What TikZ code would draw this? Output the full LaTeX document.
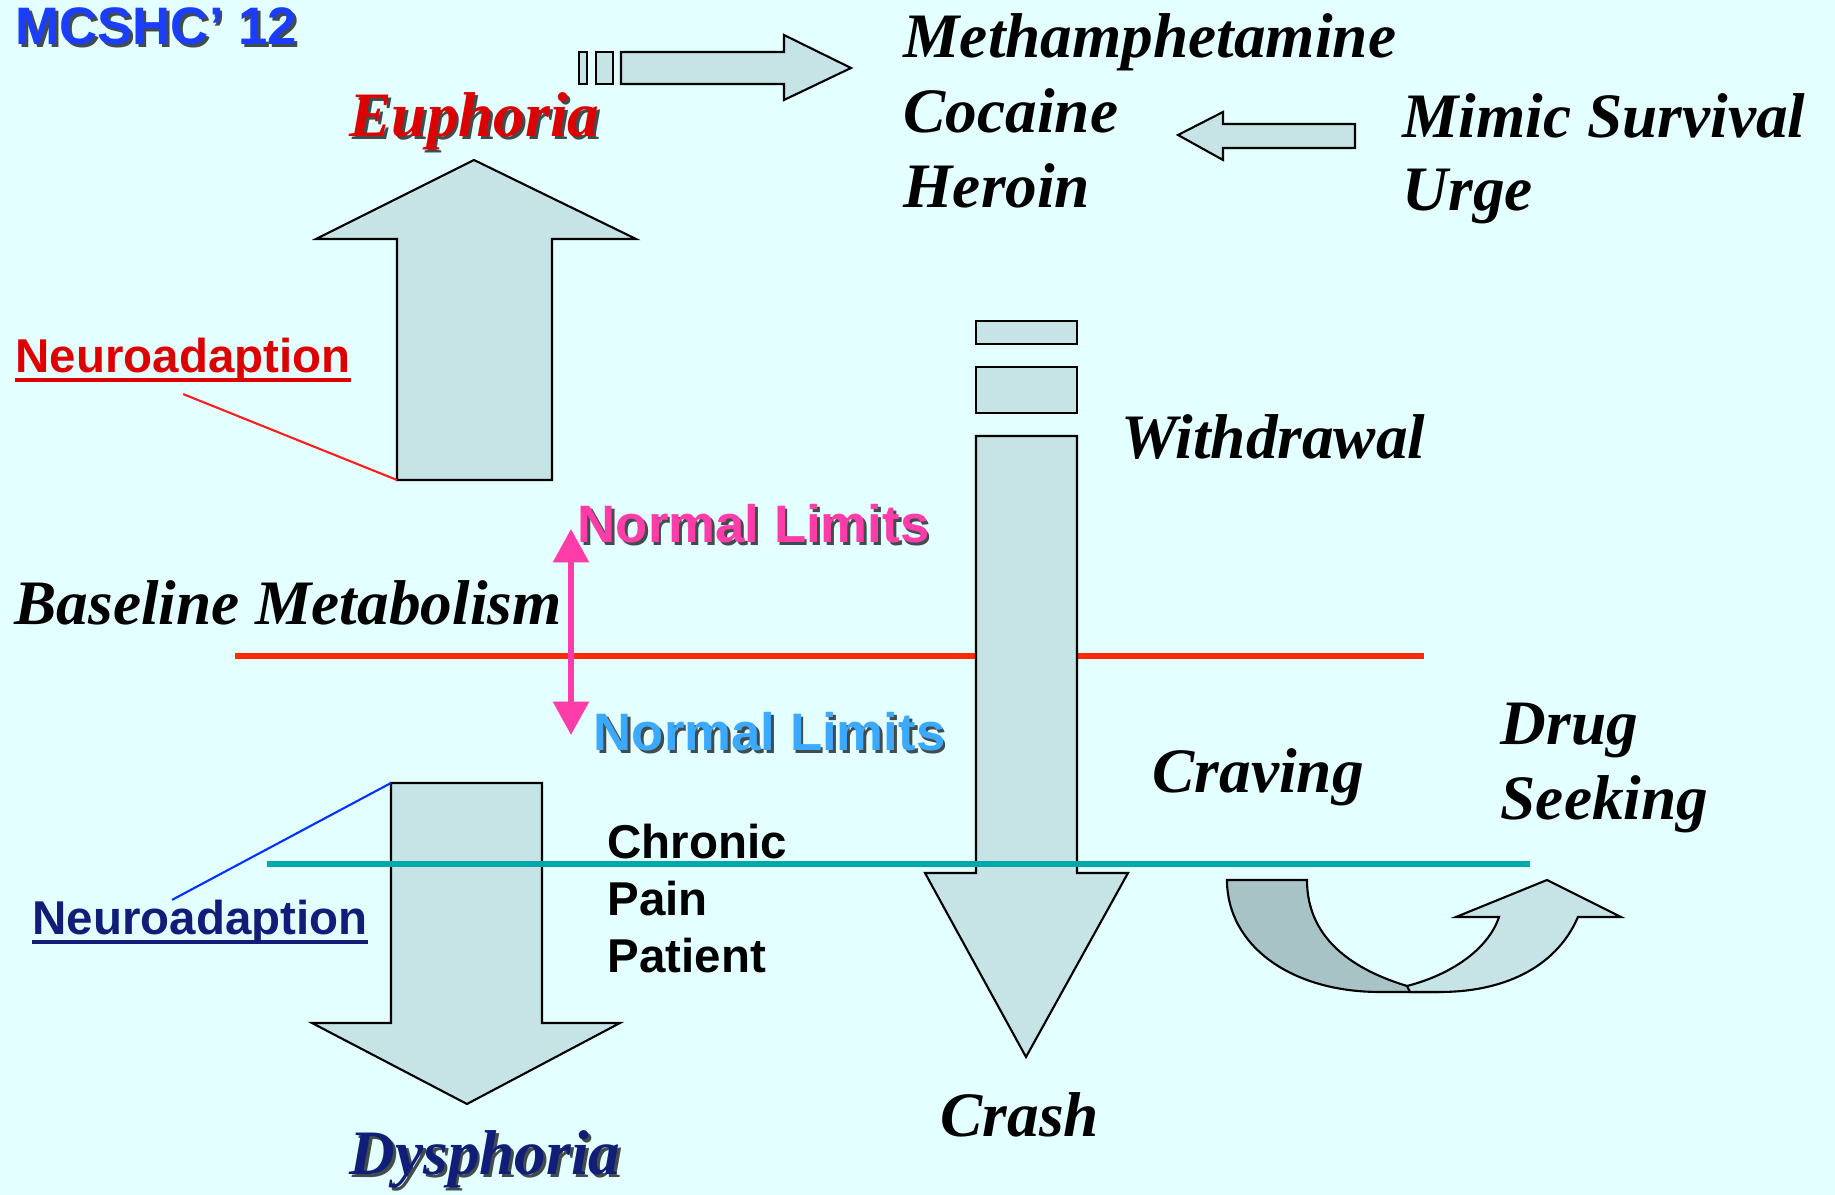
\documentclass[tikz,border=0pt]{standalone}
\usepackage{fontspec}
\setmainfont{Liberation Serif}
\setsansfont{Liberation Sans}
\usetikzlibrary{arrows.meta}
\definecolor{bg}{HTML}{E3FFFF}
\definecolor{arrfill}{HTML}{C6E4E6}
\definecolor{arrdark}{HTML}{A7C3C5}
\definecolor{basered}{HTML}{FF2A00}
\definecolor{teal}{HTML}{00A8A8}
\definecolor{hotpink}{HTML}{FF3DAA}
\definecolor{skyblue}{HTML}{3BA9FF}
\definecolor{mcblue}{HTML}{1A3DFF}
\definecolor{eured}{HTML}{DD0000}
\definecolor{navy}{HTML}{101E78}
\newcommand{\shtext}[5]{\node[#3, text=black, opacity=0.7, xshift=0.8pt, yshift=-0.8pt] (#1s) at (#2) {#5}; \node[#3, text=#4] (#1) at (#2) {#5};}
\newcommand{\uline}[2]{\draw[#2, line width=0.9pt] ([yshift=-2pt]#1.base west) -- ([yshift=-2pt]#1.base east);}
\tikzset{
  blk/.style = {fill=arrfill, draw=black, line width=0.6pt},
  lbl/.style = {anchor=base west, inner sep=0, font=\fontsize{18}{20}\selectfont\bfseries\itshape},
  sfb/.style = {anchor=base west, inner sep=0, font=\fontsize{#1}{#1}\selectfont\sffamily\bfseries}
}

\begin{document}
\begin{tikzpicture}[x = 0.01cm, y = -0.01cm]
\fill[bg] (0,0) rectangle (1835,1195);
\shtext{mcshc}{15,45}{sfb=15}{mcblue}{MCSHC’ 12}
\draw[blk] (579,52) rectangle (587,84);
\draw[blk] (596,52) rectangle (613,84);
\draw[blk] (621,52) -- (784,52) -- (784,35) -- (851,68) -- (784,100) -- (784,84) -- (621,84) -- cycle;
\shtext{euph}{349,137}{lbl}{eured}{Euphoria}
\draw[blk] (397,480) -- (397,239) -- (316,239) -- (474,160) -- (636,239) -- (552,239) -- (552,480) -- cycle;
\coordinate (eucorner) at (397,480);
\node[sfb=13.5, text=eured] (neuror) at (15,373) {Neuroadaption};
\uline{neuror}{eured}
\draw[red!85!pink, line width=0.6pt] ([yshift=-3pt]neuror.south) -- (eucorner);
\node[lbl] (meth) at (903,58) {Methamphetamine};
\node[lbl] (cocaine) at (903,133) {Cocaine};
\node[lbl] (heroin) at (903,208) {Heroin};
\node[lbl] (mimic) at (1402,138) {Mimic Survival};
\node[lbl] (urge) at (1402,211) {Urge};
\draw[blk] (1355,124) -- (1223,124) -- (1223,112) -- (1178,135) -- (1223,160) -- (1223,148) -- (1355,148) -- cycle;
\draw[basered, line width=1.7pt] (235,656) -- (1424,656);
\draw[blk] (976,321) rectangle (1077,344);
\draw[blk] (976,367) rectangle (1077,413);
\draw[blk] (976,436) -- (1077,436) -- (1077,873) -- (1128,873) -- (1026,1057) -- (925,873) -- (976,873) -- cycle;
\node[lbl] (withdr) at (1121,459) {Withdrawal};
\node[lbl] (basemet) at (14,625) {Baseline Metabolism};
\coordinate (limtop) at (571,529);
\coordinate (limbot) at (571,735);
\draw[hotpink, line width=1.5pt, {Triangle[width=10pt, length=9.5pt]}-{Triangle[width=10pt, length=9.5pt]}] (limtop) -- (limbot);
\shtext{nltop}{577,543}{sfb=15}{hotpink}{Normal Limits}
\shtext{nlbot}{593,751}{sfb=15}{skyblue}{Normal Limits}
\draw[blk] (391,783) -- (542,783) -- (542,1023) -- (620,1023) -- (467,1104) -- (312,1023) -- (391,1023) -- cycle;
\coordinate (dycorner) at (391,783);
\draw[teal, line width=1.5pt] (267,864) -- (1530,864);
\node[sfb=13.5, text=navy] (neurob) at (32,935) {Neuroadaption};
\uline{neurob}{navy}
\draw[blue!80!cyan, line width=0.6pt] ([xshift=-8pt]neurob.north) -- (dycorner);
\node[sfb=13.5] (chronic) at (607,859) {Chronic};
\node[sfb=13.5] (pain) at (607,916) {Pain};
\node[sfb=13.5] (patient) at (607,973) {Patient};
\node[lbl] (craving) at (1152,793) {Craving};
\node[lbl] (drug) at (1500,745) {Drug};
\node[lbl] (seeking) at (1500,820) {Seeking};
\draw[blk, fill=arrdark] (1227,880) -- (1307,880) .. controls (1307,940) and (1355,975) .. (1430,992) -- (1380,992) .. controls (1290,992) and (1227,945) .. (1227,880) -- cycle;
\draw[blk] (1407,986) .. controls (1450,975) and (1488,950) .. (1499,917) -- (1456,917) -- (1547,880) -- (1621,917) -- (1578,917) .. controls (1555,970) and (1500,992) .. (1440,992) -- (1410,992) -- cycle;
\node[lbl] (crash) at (940,1137) {Crash};
\shtext{dysph}{349,1175}{lbl}{navy}{Dysphoria}
\end{tikzpicture}
\end{document}
